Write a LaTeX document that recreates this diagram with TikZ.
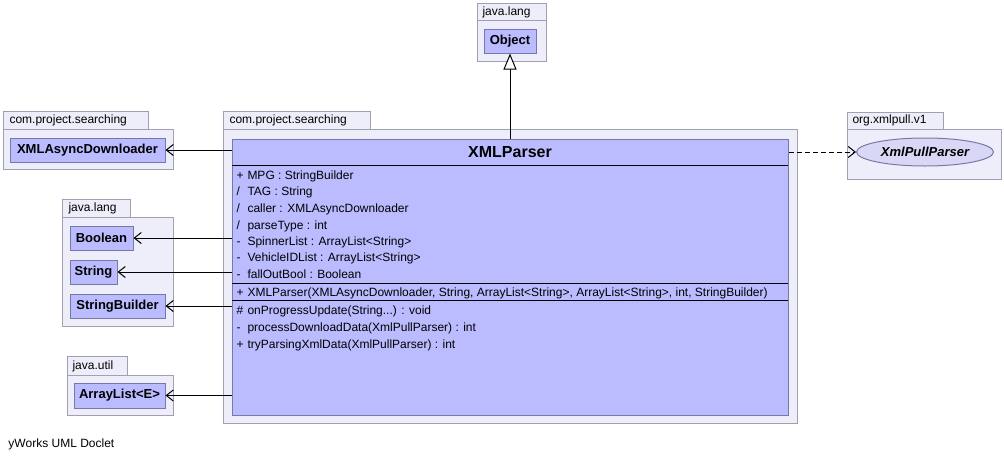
\documentclass[tikz,border=0pt]{standalone}
\usepackage{fontspec}
\setmainfont{Liberation Sans}
\usetikzlibrary{arrows.meta, shapes.geometric}

\definecolor{pkgfill}{RGB}{238,238,250}
\definecolor{pkgline}{RGB}{160,160,176}
\definecolor{clsfill}{RGB}{187,187,255}
\definecolor{clsline}{RGB}{120,120,168}
\definecolor{ifcfill}{RGB}{216,216,246}

\tikzset{
  pkg/.style={draw=pkgline, fill=pkgfill},
  cls/.style={draw=clsline, fill=clsfill, inner sep=0pt, minimum height=24pt,
    font=\fontsize{13}{15}\selectfont\bfseries},
  lbl/.style={anchor=west, inner sep=0pt, text height=8.6pt, text depth=2.4pt,
    font=\fontsize{12}{14}\selectfont},
  dep/.style={-{Straight Barb[length=7pt, width=11pt]}},
  inh/.style={-{Triangle[open, fill=white, length=16pt, width=13pt]}},
}

\begin{document}
\begin{tikzpicture}[x=1pt, y=-1pt, line width=1pt]
  \useasboundingbox (0,0) rectangle (1004,461);
  % packages
  \draw[pkg] (477,3) rectangle (546,20);
  \draw[pkg] (477,20) rectangle (546,61);
  \node[lbl] (pjl) at (482,12) {java.lang};
  \draw[pkg] (3,111) rectangle (148,129);
  \draw[pkg] (3,129) rectangle (173,169);
  \node[lbl] (pcs) at (9,120) {com.project.searching};
  \draw[pkg] (62,199) rectangle (130,217);
  \draw[pkg] (62,217) rectangle (173,326);
  \node[lbl] (pjl2) at (68,208) {java.lang};
  \draw[pkg] (67,356) rectangle (127,375);
  \draw[pkg] (67,375) rectangle (173,415);
  \node[lbl] (pju) at (72,366) {java.util};
  \draw[pkg] (223,111) rectangle (370,129);
  \draw[pkg] (223,129) rectangle (797,423);
  \node[lbl] (pmain) at (229,120) {com.project.searching};
  \draw[pkg] (847,112) rectangle (943,129);
  \draw[pkg] (847,129) rectangle (1001,179);
  \node[lbl] (pxp) at (852,120) {org.xmlpull.v1};
  % classes
  \node[cls, minimum width=52pt] (obj) at (510,41) {Object};
  \node[cls, minimum width=155pt] (dl) at (87.5,150) {XMLAsyncDownloader};
  \node[cls, minimum width=63pt] (bool) at (101.5,238) {Boolean};
  \node[cls, minimum width=47pt] (str) at (93.5,272) {String};
  \node[cls, minimum width=95pt] (sb) at (117.5,306) {StringBuilder};
  \node[cls, minimum width=91pt, minimum height=25pt] (al) at (119.5,395.5) {ArrayList<E>};
  \node[ellipse, draw=clsline, fill=ifcfill, minimum width=137pt, minimum height=28pt,
    inner sep=0pt, font=\fontsize{13}{15}\selectfont\bfseries\itshape] (xpp) at (925,152) {XmlPullParser};
  % XMLParser
  \node[draw=clsline, fill=clsfill, minimum width=556pt, minimum height=276pt, inner sep=0pt] (parser) at (510,277) {};
  \node[font=\fontsize{16}{18}\selectfont\bfseries, inner sep=0pt] (title) at (510,152) {XMLParser};
  \draw (232,165) -- (788,165);
  \draw (232,283.5) -- (788,283.5);
  \draw (232,300.5) -- (788,300.5);
  \foreach \y/\v/\t in {176/+/{MPG : StringBuilder}, 192/{/}/{TAG : String},
      209/{/}/{caller : XMLAsyncDownloader}, 226/{/}/{parseType : int},
      242/-/{SpinnerList : ArrayList<String>}, 258/-/{VehicleIDList : ArrayList<String>},
      275/-/{fallOutBool : Boolean},
      293/+/{XMLParser(XMLAsyncDownloader, String, ArrayList<String>, ArrayList<String>, int, StringBuilder)},
      311/\#/{onProgressUpdate(String...) : void}, 328/-/{processDownloadData(XmlPullParser) : int},
      345/+/{tryParsingXmlData(XmlPullParser) : int}}
  {
    \node[lbl] (v\y) at (236,\y) {\v};
    \node[lbl] (m\y) at (247,\y) {\t};
  }
  % connectors
  \draw[inh] (parser) -- (obj);
  \draw[dep] (parser.west |- dl) -- (dl);
  \draw[dep] (parser.west |- bool) -- (bool);
  \draw[dep] (parser.west |- str) -- (str);
  \draw[dep] (parser.west |- sb) -- (sb);
  \draw[dep] (parser.west |- al) -- (al);
  \draw[dep, dash pattern=on 5pt off 3pt] (parser.east |- xpp) -- (xpp);
  \node[lbl] (doclet) at (8,444) {yWorks UML Doclet};
\end{tikzpicture}
\end{document}
